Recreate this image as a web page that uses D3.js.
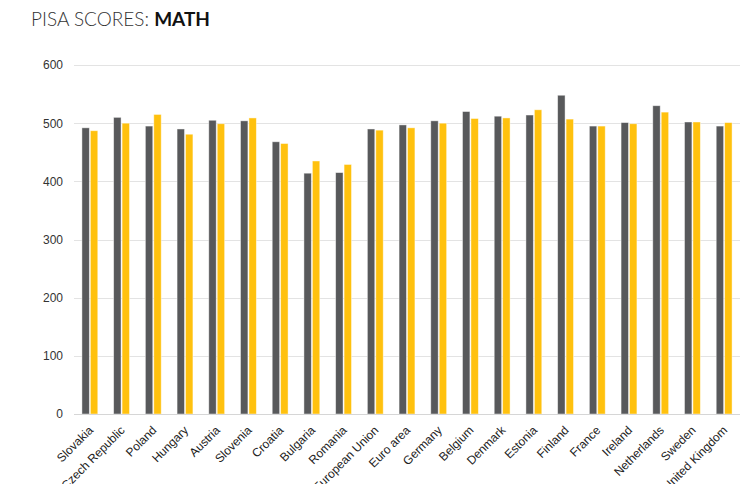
<!DOCTYPE html>
<html>
<head>
<meta charset="utf-8">
<script src="https://cdn.jsdelivr.net/npm/d3@7"></script>
<style>
  html, body { margin: 0; padding: 0; background: #fff; }
  svg { display: block; }
</style>
</head>
<body>
<svg id="chart" width="747" height="484"></svg>
<script>
// PISA mathematics scores by country, two survey rounds
const countries = ["Slovakia", "Czech Republic", "Poland", "Hungary", "Austria", "Slovenia",
  "Croatia", "Bulgaria", "Romania", "European Union", "Euro area", "Germany", "Belgium",
  "Denmark", "Estonia", "Finland", "France", "Ireland", "Netherlands", "Sweden", "United Kingdom"];
const scoresDark = [492, 510, 495, 490, 505, 504, 468, 414, 415, 490, 497, 504, 520, 512, 514, 548, 495, 501, 530, 502, 495];
const scoresYellow = [487, 500, 515, 481, 499, 509, 465, 435, 429, 488, 492, 500, 508, 509, 523, 507, 495, 499, 519, 502, 501];
const yTicks = [0, 100, 200, 300, 400, 500, 600];

const svg = d3.select("#chart");
const plotLeft = 74, plotRight = 740, plotTop = 65, plotBottom = 414;

// Title
const title = svg.append("text")
  .attr("x", 31).attr("y", 26)
  .attr("font-family", "'Source Sans Pro', Lato, 'Open Sans', sans-serif")
  .attr("font-size", 19).attr("fill", "#333");
title.append("tspan").attr("font-weight", 300).text("PISA SCORES: ");
title.append("tspan").attr("font-weight", 700).attr("fill", "#111").text("MATH");

const x = d3.scaleBand().domain(countries).range([plotLeft, plotRight])
  .paddingInner(0.5).paddingOuter(0.25);
const xSub = d3.scaleBand().domain(["dark", "yellow"]).range([0, x.bandwidth()]).paddingInner(0.12);
const y = d3.scaleLinear().domain([0, 600]).range([plotBottom, plotTop]);

// Gridlines
svg.append("g").selectAll("line").data(yTicks.filter(d => d > 0)).join("line")
  .attr("x1", plotLeft).attr("x2", plotRight)
  .attr("y1", d => Math.round(y(d)) + 0.5).attr("y2", d => Math.round(y(d)) + 0.5)
  .attr("stroke", "#e3e3e3").attr("stroke-width", 1);

// Y axis labels
const yAxis = svg.append("g").attr("transform", `translate(${plotLeft - 11},0)`)
  .call(d3.axisLeft(y).tickValues(yTicks).tickSize(0).tickPadding(0));
yAxis.select(".domain").remove();
yAxis.selectAll("text")
  .attr("font-family", "'Liberation Sans', Arial, sans-serif")
  .attr("font-size", 12).attr("fill", "#333");

// Bars
const groups = svg.append("g").selectAll("g").data(countries).join("g")
  .attr("transform", d => `translate(${x(d)},0)`);
groups.append("rect")
  .attr("x", xSub("dark")).attr("width", xSub.bandwidth())
  .attr("y", (d, i) => y(scoresDark[i])).attr("height", (d, i) => plotBottom - y(scoresDark[i]))
  .attr("fill", "#58595b").attr("stroke", "#ffffff").attr("stroke-opacity", 0.55).attr("stroke-width", 0.8);
groups.append("rect")
  .attr("x", xSub("yellow")).attr("width", xSub.bandwidth())
  .attr("y", (d, i) => y(scoresYellow[i])).attr("height", (d, i) => plotBottom - y(scoresYellow[i]))
  .attr("fill", "#ffc10e").attr("stroke", "#ffffff").attr("stroke-opacity", 0.55).attr("stroke-width", 0.8);

// Baseline
svg.append("line").attr("x1", plotLeft).attr("x2", plotRight)
  .attr("y1", plotBottom + 0.5).attr("y2", plotBottom + 0.5)
  .attr("stroke", "#d6d6d6").attr("stroke-width", 1);

// X axis labels
const xAxis = svg.append("g").attr("transform", `translate(0,${plotBottom})`)
  .call(d3.axisBottom(x).tickSize(0).tickPadding(0));
xAxis.select(".domain").remove();
xAxis.selectAll("text")
  .attr("font-family", "'Liberation Sans', Arial, sans-serif")
  .attr("font-size", 12).attr("fill", "#222")
  .attr("text-anchor", "end")
  .attr("dy", null).attr("y", 0)
  .attr("transform", "translate(4,17) rotate(-45)");
</script>
</body>
</html>
